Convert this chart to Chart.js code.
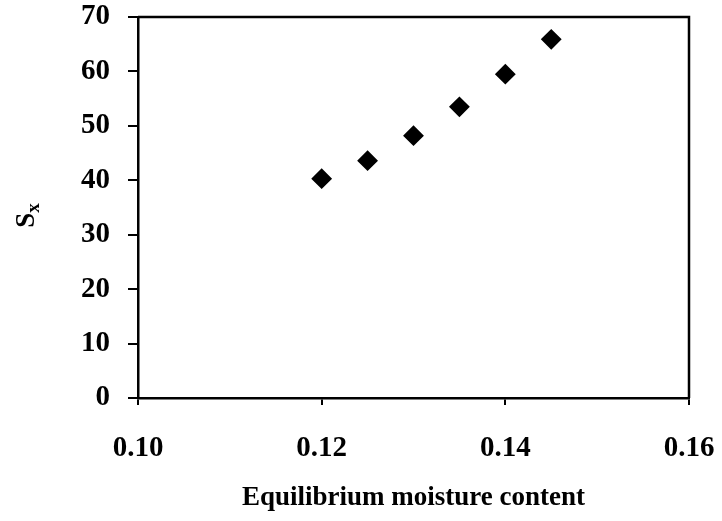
<!DOCTYPE html>
<html>
<head>
<meta charset="utf-8">
<script src="https://cdn.jsdelivr.net/npm/chart.js@4"></script>
<style>
  html, body { margin: 0; padding: 0; background: #ffffff; }
  #wrap { width: 722px; height: 521px; }
</style>
</head>
<body>
<div id="wrap"><canvas id="chart" width="722" height="521"></canvas></div>
<script>
// Equilibrium moisture content vs. Sx
const moistureContent = [0.12, 0.125, 0.13, 0.135, 0.14, 0.145];
const sxValues = [40.3, 43.6, 48.2, 53.5, 59.5, 65.9];
const xTickValues = [0.10, 0.12, 0.14, 0.16];
const yTickValues = [0, 10, 20, 30, 40, 50, 60, 70];

const FONT = '"Liberation Serif", "Times New Roman", serif';

// Frame lines on the top and right of the plot area, plus the rotated S subscript x title
const framePlugin = {
  id: 'frame',
  afterDraw(chart) {
    const { ctx, chartArea: a } = chart;
    ctx.save();
    ctx.strokeStyle = '#000';
    ctx.lineWidth = 2.5;
    ctx.beginPath();
    ctx.moveTo(a.left, a.top);
    ctx.lineTo(a.right, a.top);
    ctx.lineTo(a.right, a.bottom);
    ctx.stroke();

    // y-axis title: "S" with subscript "x", rotated
    ctx.translate(34, (a.top + a.bottom) / 2 + 8);
    ctx.rotate(-Math.PI / 2);
    ctx.fillStyle = '#000';
    ctx.textBaseline = 'alphabetic';
    ctx.font = 'bold 27px ' + FONT;
    const sW = ctx.measureText('S').width;
    ctx.font = 'bold 19px ' + FONT;
    const xW = ctx.measureText('x').width;
    const start = -(sW + xW) / 2;
    ctx.font = 'bold 27px ' + FONT;
    ctx.textAlign = 'left';
    ctx.fillText('S', start, 0);
    ctx.font = 'bold 19px ' + FONT;
    ctx.fillText('x', start + sW, 5);
    ctx.restore();
  }
};

new Chart(document.getElementById('chart'), {
  type: 'scatter',
  data: {
    datasets: [{
      data: moistureContent.map((x, i) => ({ x: x, y: sxValues[i] })),
      pointStyle: 'rectRot',
      pointRadius: 9,
      pointHoverRadius: 9,
      backgroundColor: '#000',
      borderColor: '#000',
      borderWidth: 2
    }]
  },
  options: {
    responsive: false,
    animation: false,
    layout: { padding: { top: 17, right: 33, left: 0, bottom: 0 } },
    plugins: {
      legend: { display: false },
      tooltip: { enabled: false }
    },
    scales: {
      x: {
        type: 'linear',
        min: 0.10,
        max: 0.16,
        afterBuildTicks(scale) {
          scale.ticks = xTickValues.map(v => ({ value: v }));
        },
        afterFit(scale) {
          scale.height = 521 - 398;
          scale.paddingLeft = 0;
          scale.paddingRight = 0;
        },
        border: { display: true, color: '#000', width: 2.5 },
        grid: { drawOnChartArea: false, drawTicks: true, tickLength: 7, color: '#000', lineWidth: 2 },
        ticks: {
          color: '#000',
          padding: 26,
          maxRotation: 0,
          font: { family: FONT, size: 29, weight: 'bold' },
          callback: v => Number(v).toFixed(2)
        },
        title: {
          display: true,
          text: 'Equilibrium moisture content',
          color: '#000',
          font: { family: FONT, size: 27, weight: 'bold' },
          padding: { top: 0, bottom: 7 }
        }
      },
      y: {
        type: 'linear',
        min: 0,
        max: 70,
        afterBuildTicks(scale) {
          scale.ticks = yTickValues.map(v => ({ value: v }));
        },
        afterFit(scale) {
          scale.width = 138;
          scale.paddingTop = 0;
          scale.paddingBottom = 0;
        },
        border: { display: true, color: '#000', width: 2.5 },
        grid: { drawOnChartArea: false, drawTicks: true, tickLength: 10, color: '#000', lineWidth: 2 },
        ticks: {
          color: '#000',
          padding: 18,
          font: { family: FONT, size: 29, weight: 'bold' }
        }
      }
    }
  },
  plugins: [framePlugin]
});
</script>
</body>
</html>
